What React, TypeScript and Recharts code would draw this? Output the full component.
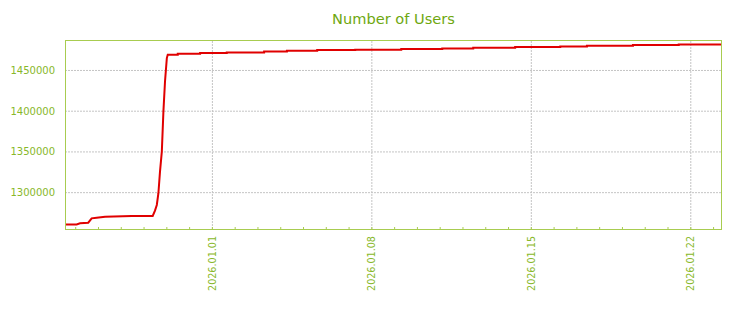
import { LineChart, Line, XAxis, YAxis, CartesianGrid, ReferenceLine } from 'recharts';

// days counted from 2026.01.01 00:00
const dayOffsets = [
  -6.47, -5.96, -5.81, -5.45, -5.30, -5.08, -4.71, -3.54, -2.62, -2.52, -2.44, -2.37,
  -2.30, -2.22, -2.15, -2.08, -2.00, -1.96, -1.52, -1.52, -0.54, -0.54, 0.63, 0.63,
  2.27, 2.27, 3.27, 3.27, 4.60, 4.60, 6.27, 6.27, 8.29, 8.29, 10.09, 10.09, 11.45,
  11.45, 13.29, 13.29, 15.27, 15.27, 16.44, 16.44, 18.46, 18.46, 20.47, 20.47, 22.37,
];
const users = [
  1261000, 1261000, 1262400, 1263100, 1268500, 1269300, 1270500, 1271300, 1271500,
  1277900, 1284900, 1299300, 1325800, 1350400, 1399600, 1436500, 1465200, 1469300,
  1469300, 1470500, 1470500, 1471400, 1471400, 1472100, 1472100, 1473400, 1473400,
  1474200, 1474200, 1475100, 1475100, 1475500, 1475500, 1476300, 1476300, 1477100,
  1477100, 1477900, 1477900, 1478800, 1478800, 1479500, 1479500, 1480400, 1480400,
  1481200, 1481200, 1482000, 1482000,
];
const dayTicks = [-6, -5, -4, -3, -2, -1, 0, 1, 2, 3, 4, 5, 6, 7, 8, 9, 10, 11, 12, 13, 14, 15, 16, 17, 18, 19, 20, 21, 22];
const labelDays = [0, 7, 14, 21];
const dateLabels = ['2026.01.01', '2026.01.08', '2026.01.15', '2026.01.22'];
const userTicks = [1300000, 1350000, 1400000, 1450000];

const data = dayOffsets.map((d, i) => ({ day: d, users: users[i] }));

const GREEN = '#a8cc50';
const TEXT = '#88b82a';
const GRID = '#c4c4c4';

const BottomTick = (props: any) => {
  const { x, y, payload } = props;
  const idx = labelDays.indexOf(payload.value);
  return (
    <g>
      <line x1={x} y1={y - 2} x2={x} y2={y} stroke={GREEN} />
      {idx >= 0 && (
        <text
          x={x + 3.5}
          y={y + 7}
          transform={`rotate(-90 ${x + 3.5} ${y + 7})`}
          textAnchor="end"
          fill={TEXT}
          fontSize={9.6}
          fontFamily="DejaVu Sans"
        >
          {dateLabels[idx]}
        </text>
      )}
    </g>
  );
};

const TopTick = (props: any) => {
  const { x, y } = props;
  return <line x1={x} y1={y} x2={x} y2={y + 2} stroke={GREEN} />;
};

const RightTick = (props: any) => {
  const { x, y } = props;
  return <line x1={x - 3} y1={y} x2={x} y2={y} stroke={GREEN} />;
};

export default function App() {
  return (
    <div style={{ position: 'absolute', left: 0, top: 0, width: 744, height: 310, background: '#fff' }}>
      <div
        style={{
          position: 'absolute',
          left: 65,
          width: 657,
          top: 11,
          textAlign: 'center',
          fontFamily: 'DejaVu Sans',
          fontSize: 14.6,
          lineHeight: '15px',
          color: '#6ea70f',
        }}
      >
        Number of Users
      </div>
      <LineChart width={744} height={310} data={data} margin={{ top: 40, right: 22, bottom: 0, left: 0 }}>
        <CartesianGrid vertical={false} stroke={GRID} strokeDasharray="2 1" horizontalValues={userTicks} />
        <XAxis
          dataKey="day"
          type="number"
          domain={[-6.47, 22.37]}
          ticks={dayTicks}
          allowDataOverflow
          height={81}
          axisLine={false}
          tickLine={false}
          tickSize={0}
          tickMargin={0}
          tick={<BottomTick />}
          interval={0}
        />
        <XAxis
          xAxisId="top"
          orientation="top"
          dataKey="day"
          type="number"
          domain={[-6.47, 22.37]}
          ticks={dayTicks}
          allowDataOverflow
          height={0}
          axisLine={false}
          tickLine={false}
          tickSize={0}
          tickMargin={0}
          tick={<TopTick />}
          interval={0}
        />
        <YAxis
          type="number"
          domain={[1255400, 1487400]}
          ticks={userTicks}
          allowDataOverflow
          width={65}
          axisLine={false}
          tickLine={false}
          tickMargin={4}
          tick={{ fill: TEXT, fontSize: 10, fontFamily: 'DejaVu Sans' }}
          interval={0}
        />
        <YAxis
          yAxisId="right"
          orientation="right"
          type="number"
          domain={[1255400, 1487400]}
          ticks={userTicks}
          allowDataOverflow
          width={0}
          axisLine={false}
          tickLine={false}
          tickSize={0}
          tickMargin={0}
          tick={<RightTick />}
          interval={0}
        />
        {labelDays.map((d) => (
          <ReferenceLine key={d} x={d} stroke={GRID} strokeDasharray="2 1" />
        ))}
        <Line
          type="linear"
          dataKey="users"
          stroke="#e00000"
          strokeWidth={2}
          dot={false}
          activeDot={false}
          isAnimationActive={false}
        />
      </LineChart>
      <div
        style={{
          position: 'absolute',
          left: 65,
          top: 40,
          width: 657,
          height: 190,
          boxSizing: 'border-box',
          border: `1px solid ${GREEN}`,
          pointerEvents: 'none',
        }}
      />
    </div>
  );
}
